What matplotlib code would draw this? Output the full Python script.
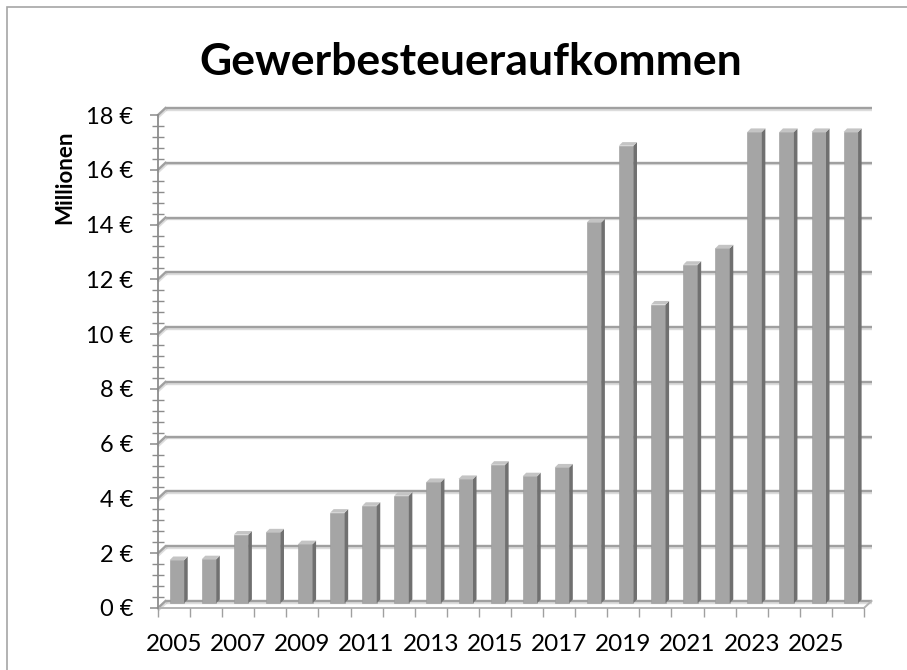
import matplotlib
matplotlib.use("Agg")
import matplotlib.pyplot as plt
from matplotlib.patches import Polygon, Rectangle
import matplotlib.patheffects as pe
import numpy as np

years = list(range(2005, 2027))
values = [1.57, 1.6, 2.5, 2.58, 2.15, 3.3, 3.55, 3.92, 4.42, 4.53, 5.05, 4.63, 4.95,
          13.9, 16.7, 10.9, 12.35, 12.95, 17.2, 17.2, 17.2, 17.2]
ytick_vals = list(range(0, 19, 2))
ytick_labels = [f"{v} €" for v in ytick_vals]
xlabel_years = [y for y in years if y % 2 == 1]

title = "Gewerbesteueraufkommen"
ylabel = "Millionen"

W, H = 907, 670
fig = plt.figure(figsize=(W / 100, H / 100), dpi=100)
plt.rcParams['font.family'] = ['Lato', 'DejaVu Sans']

# chart border
fig.add_artist(Rectangle((7 / W, -0.1), 2, (H - 7) / H + 0.1, transform=fig.transFigure,
                         fill=False, edgecolor='#a6a6a6', lw=1.2))

ax = fig.add_axes([158 / W, (H - 608) / H, (864 - 158) / W, (608 - 115) / H])
n = len(years)
ax.set_xlim(0, n)
ax.set_ylim(0, 18)
for s in ['top', 'right', 'bottom']:
    ax.spines[s].set_visible(False)
ax.spines['left'].set_color('#8c8c8c')
ax.spines['left'].set_linewidth(1.3)
ax.patch.set_alpha(0)

# depth offsets (data units)
dx = 7.5 / ((864 - 158) / n)
dy = 7 / ((608 - 115) / 18)

grid_color = '#a0a0a0'
shadow = [pe.SimpleLineShadow(offset=(0.6, -1.2), shadow_color='#bbbbbb', alpha=0.5), pe.Normal()]
for v in ytick_vals:
    ax.plot([dx, n + dx], [v + dy, v + dy], color=grid_color, lw=1.7, zorder=1,
            clip_on=False, solid_capstyle='butt', path_effects=shadow)
    ax.plot([0, dx], [v, v + dy], color=grid_color, lw=1.7, zorder=1, clip_on=False,
            path_effects=shadow)
# floor
ax.plot([0, n], [0, 0], color='#b3b3b3', lw=1.4, zorder=1, clip_on=False)
ax.plot([n, n + dx], [0, dy], color='#b3b3b3', lw=1.4, zorder=1, clip_on=False)

# bars (3D look)
bw = 14.5 / ((864 - 158) / n)
bx = 0.09
by = 0.18
sd = 0.11
sdy = 0.13
xs = np.arange(n) + 0.5 + bx
ax.bar(xs, values, width=bw, bottom=by, color='#a5a5a5', edgecolor='#9a9a9a', lw=0.4,
       zorder=3, clip_on=False)
for x, v in zip(xs, values):
    xl, xr = x - bw / 2, x + bw / 2
    ax.add_patch(Polygon([(xr, by), (xr + sd, by + sdy), (xr + sd, by + v + sdy), (xr, by + v)],
                         closed=True, facecolor='#707070', edgecolor='none', zorder=3, clip_on=False))
    ax.add_patch(Polygon([(xl, by + v), (xr, by + v), (xr + sd, by + v + sdy), (xl + sd, by + v + sdy)],
                         closed=True, facecolor='#c4c4c4', edgecolor='none', zorder=3, clip_on=False))

# y ticks
ax.set_yticks(ytick_vals)
ax.set_yticklabels(ytick_labels, fontsize=17)
ax.set_yticks(np.arange(0, 18.01, 0.4), minor=True)
ax.tick_params(axis='y', which='major', direction='out', length=6, width=1.1, color='#8c8c8c', pad=12)
ax.tick_params(axis='y', which='minor', direction='inout', length=8, width=1.0, color='#8c8c8c')

# x ticks
ax.set_xticks(np.arange(0, n + 1))
ax.set_xticklabels([])
ax.set_xticks([years.index(y) + 0.5 for y in xlabel_years], minor=True)
ax.set_xticklabels([str(y) for y in xlabel_years], minor=True, fontsize=17.5)
ax.tick_params(axis='x', which='major', direction='out', length=6.5, width=1.0, color='#a0a0a0')
ax.tick_params(axis='x', which='minor', length=0, pad=19)

fig.text(471 / W, 1 - 62 / H, title, fontsize=32, fontweight='bold', ha='center', va='center')
fig.text(65 / W, 1 - 177 / H, ylabel, fontsize=16, fontweight='bold', rotation=90,
         ha='center', va='center')

fig.savefig("out.png", dpi=100)
